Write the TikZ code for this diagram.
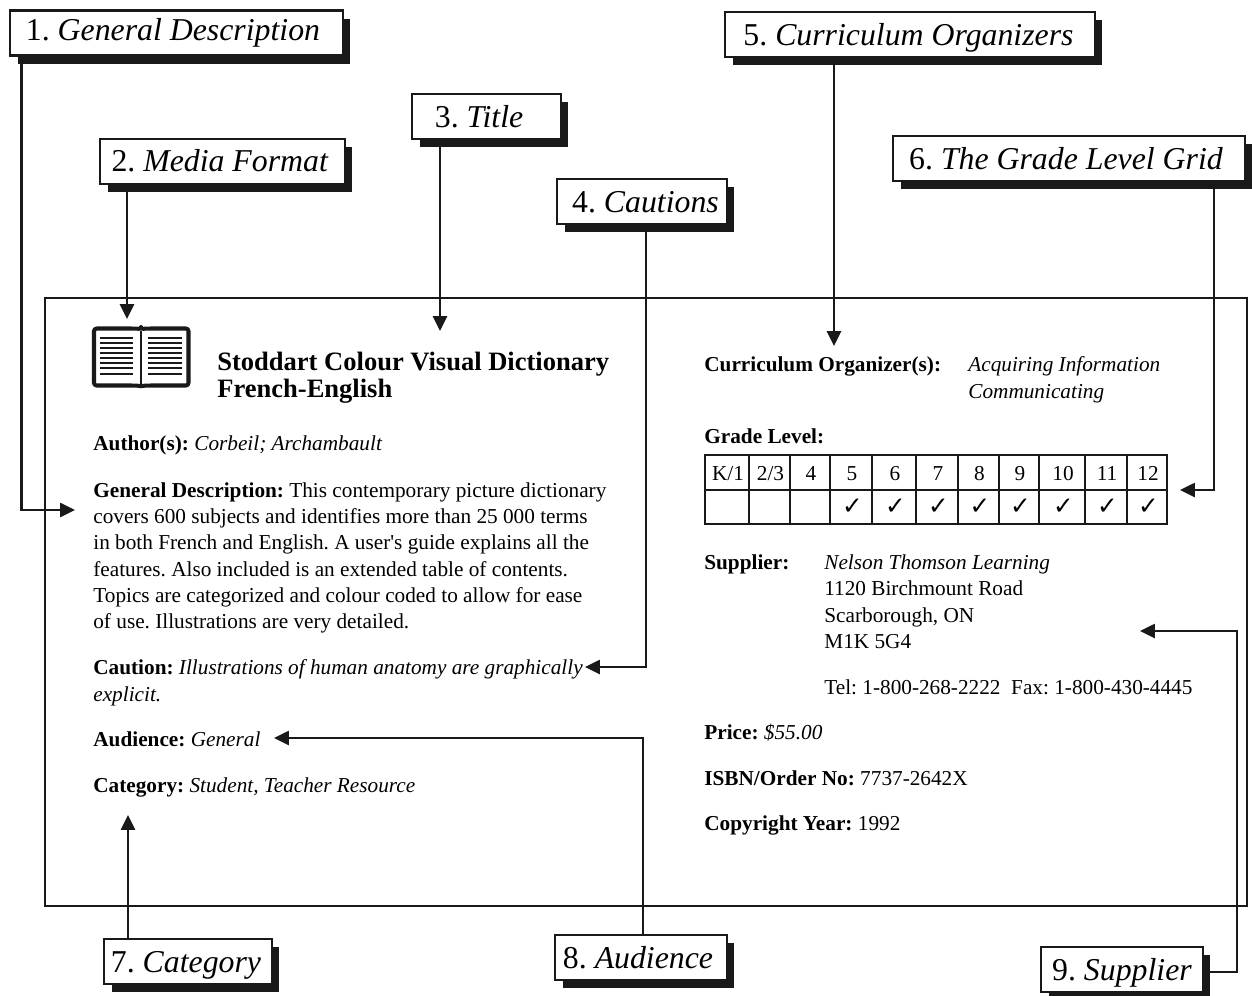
\documentclass[tikz,border=0pt]{standalone}
\usepackage{fontspec}
\setmainfont{Liberation Serif}
\newfontfamily\checkfont{DejaVu Sans}
\usetikzlibrary{arrows.meta,shadows}
\frenchspacing

\tikzset{
  callout/.style={draw=black!90, line width=1.3pt, fill=white, inner sep=0pt,
    minimum height=0.9cm, text height=14pt, text depth=1.5pt,
    font=\fontsize{18.1}{22}\selectfont,
    drop shadow={shadow xshift=0.15cm, shadow yshift=-0.16cm, fill=black!90, opacity=1}},
  connector/.style={draw=black!90, line width=1.3pt,
    -{Triangle[length=8.5pt, width=8pt]}},
  bodytext/.style={inner sep=0pt, anchor=base west, font=\fontsize{12.1}{15}\selectfont},
  bodyblock/.style={inner sep=0pt, anchor=north west, align=left,
    font=\fontsize{12.1}{15}\selectfont},
}

\begin{document}
\begin{tikzpicture}[x=0.02cm, y=-0.02cm, line join=miter]
  \useasboundingbox (0,0) rectangle (1252,995);

  % Record frame
  \draw [black!90, line width=1.3pt] (45,298) rectangle (1247,906);

  % Callouts
  \node (lblGeneral) [callout, minimum width=6.66cm, text height=12pt, text depth=4pt] at (176.5,33) {\hspace*{-4pt}1. \textit{General Description}};
  \node (lblMedia) [callout, minimum width=4.9cm, text height=13.5pt, text depth=2pt] at (222.5,161.5) {\hspace*{-2.8pt}2. \textit{Media Format}};
  \node (lblTitle) [callout, minimum width=2.98cm] at (486.5,116.5) {\hspace*{-8.5pt}3. \textit{Title}};
  \node (lblCaution) [callout, minimum width=3.4cm] at (642,201.5) {\hspace*{4pt}4. \textit{Cautions}};
  \node (lblOrganizer) [callout, minimum width=7.4cm] at (910,34.5) {\hspace*{-1.7pt}5. \textit{Curriculum Organizers}};
  \node (lblGrid) [callout, minimum width=7.04cm] at (1069,158.5) {\hspace*{-3.4pt}6. \textit{The Grade Level Grid}};
  \node (lblCategory) [callout, minimum width=3.36cm] at (188,961.5) {\hspace*{-2.3pt}7. \textit{Category}};
  \node (lblAudience) [callout, minimum width=3.44cm] at (641,957.5) {\hspace*{-3.4pt}8. \textit{Audience}};
  \node (lblSupplier) [callout, minimum width=3.24cm] at (1122,969.5) {9. \textit{Supplier}};

  % Free ends of the connectors
  \coordinate (endGeneral) at (75,510);
  \coordinate (endMedia) at (127,319);
  \coordinate (endTitle) at (440,331);
  \coordinate (endCaution) at (585,667);
  \coordinate (endOrganizer) at (834,346);
  \coordinate (endGrid) at (1180,490);
  \coordinate (endCategory) at (128,815);
  \coordinate (endAudience) at (274,738);
  \coordinate (endSupplier) at (1140,631);
  \coordinate (turnSupplier) at (1237,800);

  % Connectors
  \draw [connector] ([xshift=0.25cm]lblGeneral.south west) |- (endGeneral);
  \draw [connector] (lblMedia.south -| endMedia) -- (endMedia);
  \draw [connector] (lblTitle.south -| endTitle) -- (endTitle);
  \draw [connector] ([xshift=0.08cm]lblCaution.south) |- (endCaution);
  \draw [connector] (lblOrganizer.south -| endOrganizer) -- (endOrganizer);
  \draw [connector] ([xshift=2.9cm]lblGrid.south) |- (endGrid);
  \draw [connector] (lblCategory.north -| endCategory) -- (endCategory);
  \draw [connector] ([xshift=0.04cm]lblAudience.north) |- (endAudience);
  \draw [connector] ([yshift=-0.05cm]lblSupplier.east) -| (turnSupplier) |- (endSupplier);

  % Book icon
  \draw [black!90, line width=2.3pt, line join=round, rounded corners=1.5pt, fill=white]
    (141,329.5) .. controls (137,328.5) and (133,328.5) .. (128,328.5) -- (94,328.5) -- (94,385.5) -- (128,385.5)
    .. controls (133,385.5) and (137,385.5) .. (141,386.5)
    .. controls (145,385.5) and (149,385.5) .. (154,385.5) -- (188.5,385.5) -- (188.5,328.5) -- (154,328.5)
    .. controls (149,328.5) and (145,328.5) .. (141,329.5) -- cycle;
  \draw [black!90, line width=1pt] (141,331) -- (141,385);
  \foreach \y in {338,343,348,353,358,363,368,374}{
    \draw [black!90, line width=0.7pt] (100,\y) -- (133,\y);
    \draw [black!90, line width=0.7pt] (148,\y) -- (182,\y);
  }

  % Left column
  \node (title) [bodyblock, font=\fontsize{15.1}{15.3}\selectfont\bfseries] at (217,352)
    {Stoddart Colour Visual Dictionary\\French-English};
  \node (author) [bodytext] at (93,450) {\textbf{Author(s):} \textit{Corbeil; Archambault}};
  \node (general) [bodyblock] at (93,482)
    {\textbf{General Description:} This contemporary picture dictionary\\
     covers 600 subjects and identifies more than 25 000 terms\\
     in both French and English. A user\textquotesingle s guide explains all the\\
     features. Also included is an extended table of contents.\\
     Topics are categorized and colour coded to allow for ease\\
     of use. Illustrations are very detailed.};
  \node (caution) [bodyblock] at (93,659.5)
    {\textbf{Caution:} \textit{Illustrations of human anatomy are graphically}\\
     \textit{explicit.}};
  \node (audience) [bodytext] at (93,746) {\textbf{Audience:} \textit{General}};
  \node (category) [bodytext] at (93,792) {\textbf{Category:} \textit{Student, Teacher Resource}};

  % Right column
  \node (organizer) [bodytext] at (704,371) {\textbf{Curriculum Organizer(s):}};
  \node (organizerList) [bodyblock, font=\fontsize{12.1}{15}\selectfont\itshape] at (968,356.5)
    {Acquiring Information\\Communicating};
  \node (grade) [bodytext] at (704,443) {\textbf{Grade Level:}};

  % Grade grid
  \foreach \xa/\xb/\lab/\tick in {705/749/K\slash 1/0, 749/790/2\slash 3/0, 790/830/4/0, 830/872/5/1,
      872/916/6/1, 916/958/7/1, 958/999/8/1, 999/1039/9/1, 1039/1085/10/1, 1085/1127/11/1, 1127/1167/12/1}{
    \draw [black!90, line width=1.3pt] (\xa,455) rectangle (\xb,490);
    \draw [black!90, line width=1.3pt] (\xa,490) rectangle (\xb,524);
    \node (cell\xa) [bodytext, anchor=base] at ({(\xa+\xb)/2+1},480) {\lab};
    \ifnum\tick=1
      \node (tick\xa) [inner sep=0pt, font=\checkfont\fontsize{14}{16}\selectfont\bfseries] at ({(\xa+\xb)/2+1.5},507) {✓};
    \fi
  }

  \node (supplier) [bodytext] at (704,569) {\textbf{Supplier:}};
  \node (address) [bodyblock] at (824,554.5)
    {\textit{Nelson Thomson Learning}\\1120 Birchmount Road\\Scarborough, ON\\M1K 5G4};
  \node (phone) [bodytext] at (824,694) {Tel: 1-800-268-2222\ \ Fax: 1-800-430-4445};
  \node (price) [bodytext] at (704,739) {\textbf{Price:} \textit{\$55.00}};
  \node (isbn) [bodytext] at (704,785) {\textbf{ISBN/Order No:} 7737-2642X};
  \node (copyright) [bodytext] at (704,830) {\textbf{Copyright Year:} 1992};

\end{tikzpicture}
\end{document}
